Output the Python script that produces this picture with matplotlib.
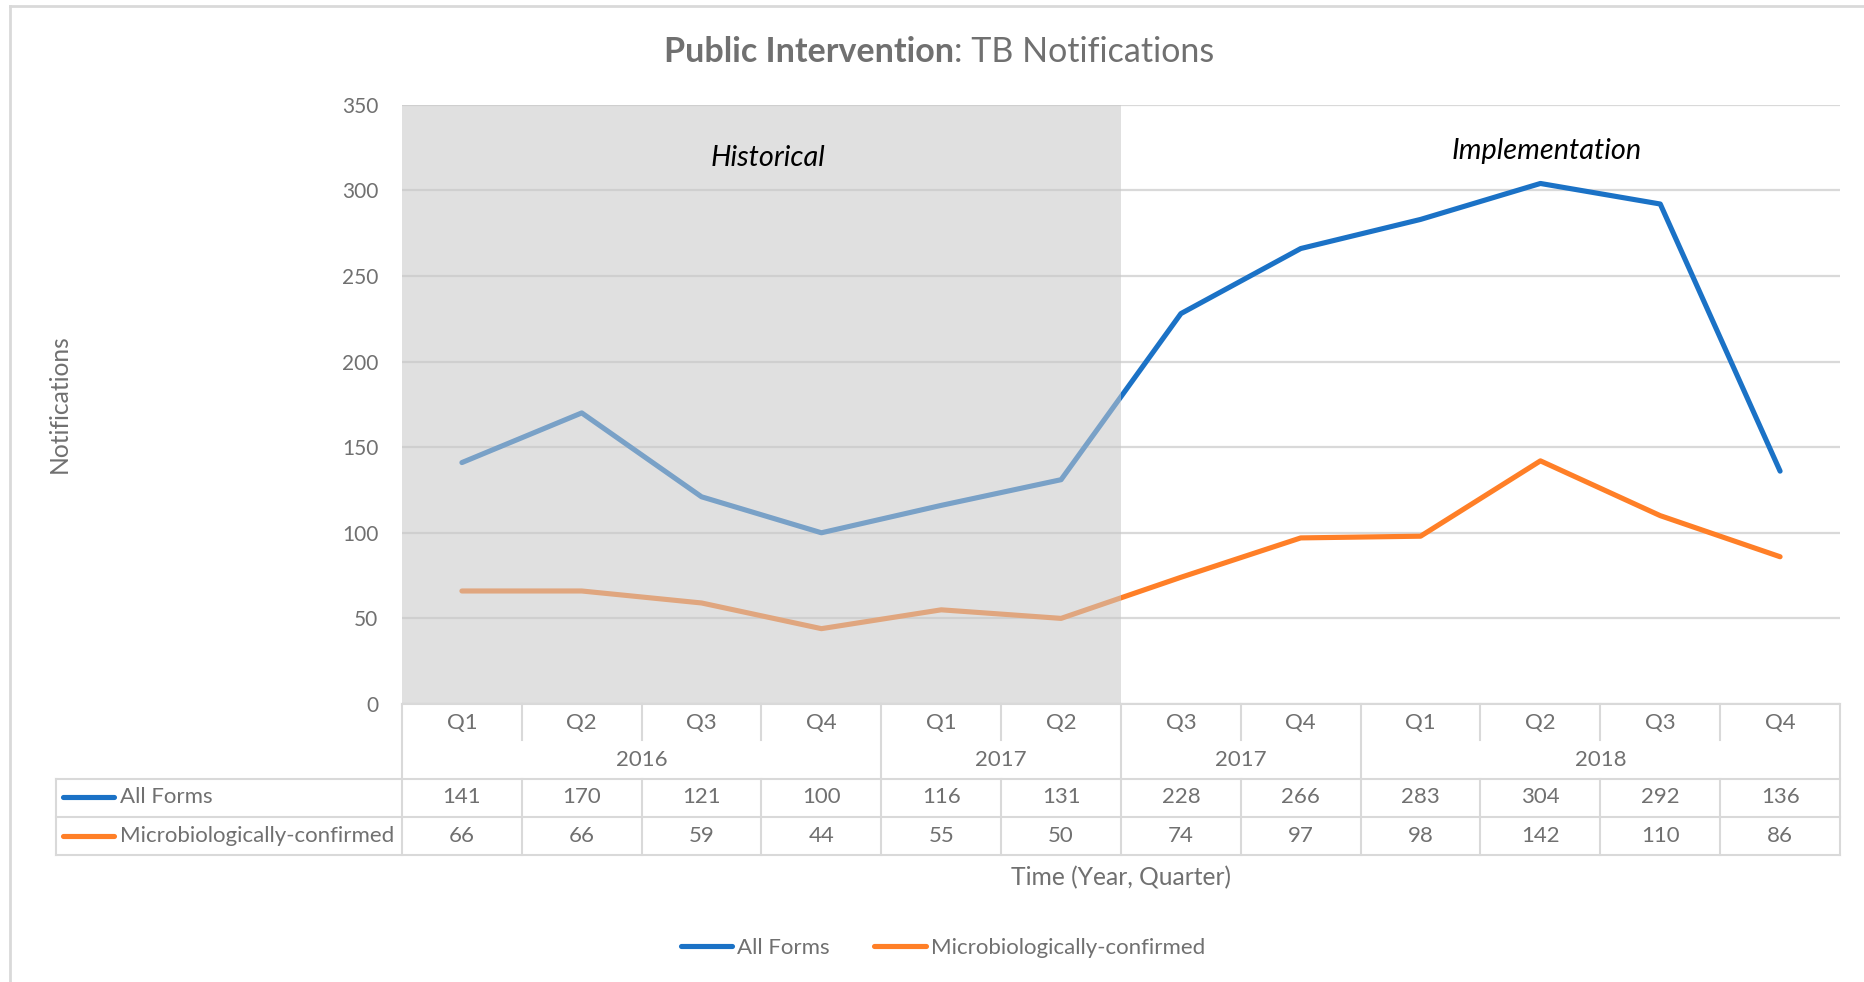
import matplotlib
matplotlib.use('Agg')
import matplotlib.pyplot as plt
from matplotlib.lines import Line2D
from matplotlib.transforms import blended_transform_factory

# ---------------- data ----------------
quarters = ['Q1', 'Q2', 'Q3', 'Q4', 'Q1', 'Q2', 'Q3', 'Q4', 'Q1', 'Q2', 'Q3', 'Q4']
year_labels = ['2016', '2017', '2017', '2018']
year_spans = [4, 2, 2, 4]
all_forms = [141, 170, 121, 100, 116, 131, 228, 266, 283, 304, 292, 136]
micro = [66, 66, 59, 44, 55, 50, 74, 97, 98, 142, 110, 86]
series_names = ['All Forms', 'Microbiologically-confirmed']
historical_n = 6
y_ticks = [0, 50, 100, 150, 200, 250, 300, 350]

# ---------------- style ----------------
plt.rcParams['font.family'] = ['Lato', 'DejaVu Sans']
BLUE = '#1B72C6'
ORANGE = '#FF7F27'
GRAY = '#707070'
GRID = '#d9d9d9'
FS = 16
FS_TICK = 15
FS_AXT = 17.7
FS_TITLE = 24.5
FS_ANN = 20.8

W, H = 1865, 982
fig = plt.figure(figsize=(W / 100, H / 100), dpi=100)


def fx(px):
    return px / W


def fy(py):
    return 1 - py / H


ax = fig.add_axes([fx(402), fy(704), fx(1840) - fx(402), fy(104.7) - fy(704)])
xs = list(range(len(quarters)))
colors = [BLUE, ORANGE]
for vals, c in zip([all_forms, micro], colors):
    ax.plot(xs, vals, color=c, lw=3.7, solid_capstyle='round',
            solid_joinstyle='round', zorder=3)

ax.set_xlim(-0.5, len(quarters) - 0.5)
ax.set_ylim(0, 350)
ax.set_yticks(y_ticks)
ax.yaxis.grid(True, color=GRID, lw=1.6)
ax.set_axisbelow(True)
ax.tick_params(axis='y', length=0, pad=17, labelsize=FS_TICK, labelcolor=GRAY)
ax.set_xticks([])
for s in ax.spines.values():
    s.set_visible(False)

# semi-transparent historical shading drawn over the lines
ax.axvspan(-0.5, historical_n - 0.5, color='#c8c8c8', alpha=0.55, lw=0, zorder=4)

ax.text((historical_n - 1) / 2 + 0.05, 319, 'Historical', style='italic',
        fontsize=FS_ANN, color='black', ha='center', va='center', zorder=5)
ax.text(9.05, 323, 'Implementation', style='italic',
        fontsize=FS_ANN, color='black', ha='center', va='center', zorder=5)

# ---------------- data table ----------------
trans = blended_transform_factory(ax.transData, fig.transFigure)
for i, q in enumerate(quarters):
    ax.text(i, fy(723), q, transform=trans, ha='center', va='center',
            fontsize=FS, color=GRAY, clip_on=False)

start = 0
boundaries = []
for lab, span in zip(year_labels, year_spans):
    ax.text(start + span / 2 - 0.5, fy(760), lab, transform=trans, ha='center',
            va='center', fontsize=FS, color=GRAY, clip_on=False)
    start += span
    boundaries.append(start)

row_y = [797, 836]
for vals, ry in zip([all_forms, micro], row_y):
    for i, v in enumerate(vals):
        ax.text(i, fy(ry), str(v), transform=trans, ha='center', va='center',
                fontsize=FS, color=GRAY, clip_on=False)

LW_T = 1.5


def vline(xd, y0, y1):
    ax.add_line(Line2D([xd, xd], [fy(y0), fy(y1)], transform=trans, color=GRID,
                       lw=LW_T, clip_on=False))


vline(-0.5, 704, 855)
for i in range(1, len(quarters) + 1):
    b = i - 0.5
    if i in boundaries:
        vline(b, 704, 855)
    else:
        vline(b, 704, 740)
        vline(b, 779, 855)

fig.add_artist(Line2D([fx(402), fx(1840)], [fy(704)] * 2, color=GRID, lw=LW_T))
for yy in [779, 817, 855]:
    fig.add_artist(Line2D([fx(56), fx(1840)], [fy(yy)] * 2, color=GRID, lw=LW_T))
fig.add_artist(Line2D([fx(56)] * 2, [fy(779), fy(855)], color=GRID, lw=LW_T))

for name, c, ry in zip(series_names, colors, row_y):
    fig.add_artist(Line2D([fx(63), fx(114)], [fy(ry)] * 2, color=c, lw=3.7,
                          solid_capstyle='round'))
    fig.text(fx(120), fy(ry), name, ha='left', va='center', fontsize=FS, color=GRAY)

# ---------------- labels ----------------
fig.text(fx(1121), fy(878), 'Time (Year, Quarter)', ha='center', va='center',
         fontsize=FS_AXT, color=GRAY)
fig.text(fx(59), fy(404), 'Notifications', ha='center', va='center',
         rotation=90, fontsize=FS_AXT, color=GRAY)

t1 = fig.text(0, fy(52), 'Public Intervention', ha='left', va='center',
              fontsize=FS_TITLE, fontweight='bold', color=GRAY)
t2 = fig.text(0, fy(52), ': TB Notifications', ha='left', va='center',
              fontsize=FS_TITLE, color=GRAY)
r = fig.canvas.get_renderer()
w1 = t1.get_window_extent(r).width
w2 = t2.get_window_extent(r).width
x0 = 939 - (w1 + w2) / 2
t1.set_x(fx(x0))
t2.set_x(fx(x0 + w1))

# ---------------- legend ----------------
handles = [Line2D([], [], color=c, lw=3.7, solid_capstyle='round') for c in colors]
fig.legend(handles, series_names, loc='center', bbox_to_anchor=(fx(943), fy(948)),
           ncol=2, frameon=False, handlelength=2.3, handletextpad=0.25,
           columnspacing=2.0, fontsize=FS, labelcolor=GRAY)

# ---------------- chart border ----------------
fig.add_artist(Line2D([fx(10), 1], [fy(6)] * 2, color=GRID, lw=2))
fig.add_artist(Line2D([fx(10)] * 2, [fy(6), 0], color=GRID, lw=2))

fig.savefig('out.png', dpi=100)
